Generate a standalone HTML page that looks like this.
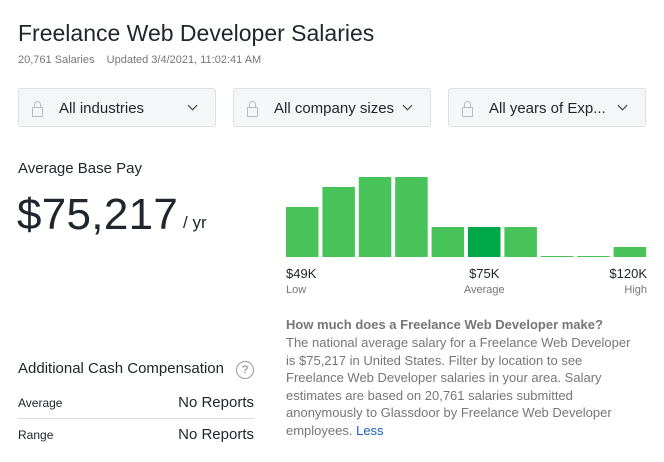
<!DOCTYPE html>
<html><head><meta charset="utf-8">
<style>
body{margin:0;width:664px;height:462px;background:#fff;font-family:"Liberation Sans",sans-serif;color:#20262e;position:relative;overflow:hidden}
.a{position:absolute;white-space:nowrap}
.dd{position:absolute;top:88px;height:39px;width:198px;background:#f5f6f7;border:1px solid #dee0e3;border-radius:3px;box-sizing:border-box}
.dd .t{position:absolute;left:40px;top:11px;font-size:15px;color:#20262e}
.dd .l{position:absolute;left:13px;width:9px;height:8px;border:1px solid #bbb;top:18px}
.dd .l:before{content:"";position:absolute;left:1px;top:-7px;width:5px;height:6px;border:1px solid #bbb;border-bottom:none;border-radius:4px 4px 0 0}
.dd .c{position:absolute;right:19px;top:13px;width:6px;height:6px;border-right:1.5px solid #333;border-bottom:1.5px solid #333;transform:rotate(45deg)}
.row{position:absolute;left:18px;width:236px;font-size:12px}
</style></head><body>
<div class="a" style="left:18px;top:20px;font-size:23px">Freelance Web Developer Salaries</div>
<div class="a" style="left:18px;top:54px;font-size:11px;color:#767676">20,761 Salaries &nbsp;&nbsp; Updated 3/4/2021, 11:02:41 AM</div>
<div class="dd" style="left:18px"><span class="l"></span><span class="t">All industries</span><span class="c"></span></div>
<div class="dd" style="left:233px"><span class="l"></span><span class="t">All company sizes</span><span class="c"></span></div>
<div class="dd" style="left:448px"><span class="l"></span><span class="t">All years of Exp...</span><span class="c"></span></div>
<div class="a" style="left:18px;top:160px;font-size:15px">Average Base Pay</div>
<div class="a" style="left:17px;top:190px;font-size:44px;color:#20262e;letter-spacing:0.3px">$75,217</div>
<div class="a" style="left:183px;top:213px;font-size:17px">/ yr</div>
<svg class="a" style="left:0;top:0" width="664" height="462" id="chart"></svg>
<div class="a" style="left:286px;top:317px;font-size:13px;font-weight:bold;color:#767676">How much does a Freelance Web Developer make?</div>
<div class="a" style="left:286px;top:334px;font-size:13px;line-height:17.5px;color:#767676">The national average salary for a Freelance Web Developer<br>is $75,217 in United States. Filter by location to see<br>Freelance Web Developer salaries in your area. Salary<br>estimates are based on 20,761 salaries submitted<br>anonymously to Glassdoor by Freelance Web Developer<br>employees. <span style="color:#1861bf">Less</span></div>
<div class="a" style="left:18px;top:360px;font-size:15px">Additional Cash Compensation</div>
<div class="a" style="left:236px;top:361px;width:16px;height:16px;border:1px solid #999;border-radius:50%;font-size:11px;text-align:center;line-height:16px;color:#777">?</div>
<div class="row" style="top:396px;height:22px;border-bottom:1px solid #ddd"><span>Average</span><span style="position:absolute;right:0;top:-2px;font-size:15px">No Reports</span></div>
<div class="row" style="top:428px"><span>Range</span><span style="position:absolute;right:0;top:-2px;font-size:15px">No Reports</span></div>
<script>
const binLabels=["b1","b2","b3","b4","b5","b6","b7","b8","b9","b10"];
const binHeights=[50,70,80,80,30,30,30,1,1,10];
const highlightIndex=5;
const tickLabels=["$49K","$75K","$120K"];
const tickSubLabels=["Low","Average","High"];
const svg=document.getElementById('chart');
const NS="http://www.w3.org/2000/svg";
const x0=286,step=36.4,bw=32.5,base=257,maxV=80,hPx=80;
const yS=v=>v/maxV*hPx;
binHeights.forEach((v,i)=>{
 const r=document.createElementNS(NS,'rect');
 r.setAttribute('x',x0+i*step);r.setAttribute('width',bw);
 r.setAttribute('y',base-yS(v));r.setAttribute('height',yS(v));
 r.setAttribute('fill',i===highlightIndex?'#00a84a':'#48c35a');
 
 
 svg.appendChild(r);
});
const tx=[286,x0+highlightIndex*step+bw/2,647],anc=['start','middle','end'];
tickLabels.forEach((t,i)=>{
 const a=document.createElementNS(NS,'text');
 a.setAttribute('x',tx[i]);a.setAttribute('y',278);a.setAttribute('text-anchor',anc[i]);
 a.setAttribute('font-size','13');a.setAttribute('fill','#20262e');a.textContent=t;
 
 
 svg.appendChild(a);
 const b=document.createElementNS(NS,'text');
 b.setAttribute('x',tx[i]);b.setAttribute('y',293);b.setAttribute('text-anchor',anc[i]);
 b.setAttribute('font-size','11');b.setAttribute('fill','#767676');b.textContent=tickSubLabels[i];
 
 
 svg.appendChild(b);
});
</script>
</body></html>
